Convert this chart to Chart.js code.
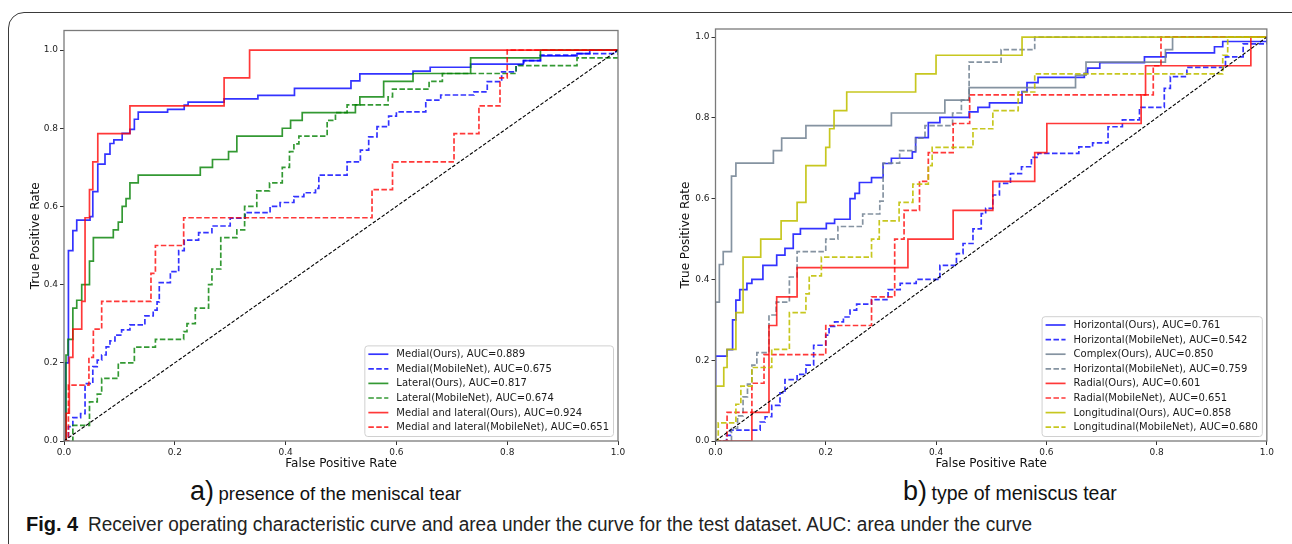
<!DOCTYPE html>
<html>
<head>
<meta charset="utf-8">
<script src="https://cdn.jsdelivr.net/npm/chart.js@4.4.0/dist/chart.umd.min.js"></script>
<style>
  body { margin: 0; background: #fff; width: 1292px; height: 544px; overflow: hidden; position: relative;
         font-family: "Liberation Sans", Arial, sans-serif; }
  #frame { position: absolute; left: 8px; top: 12px; width: 1300px; height: 580px;
           border: 1.3px solid #3a3a3a; border-radius: 16px; box-sizing: border-box; }
  .wrap { position: absolute; top: 20px; }
  #wrapA { left: 10px; }
  #wrapB { left: 660px; }
  .sub { position: absolute; top: 476px; white-space: nowrap; color: #111; line-height: 30px; }
  .sub .lt { font-size: 27px; }
  .sub .tx { font-size: 18.5px; }
  #caption { position: absolute; left: 26px; top: 511px; white-space: nowrap; line-height: 26px; font-size: 20px; color: #222; }
  #caption b { font-weight: bold; color: #111; display: inline-block; width: 62px; }
  #caption span { display: inline-block; transform-origin: left center; transform: scaleX(0.95); }
</style>
</head>
<body>
<div id="frame"></div>
<div class="wrap" id="wrapA"><canvas id="rocA" width="618" height="451"></canvas></div>
<div class="wrap" id="wrapB"><canvas id="rocB" width="616" height="451"></canvas></div>
<div class="sub" style="left:190px"><span class="lt">a)</span> <span class="tx">presence of the meniscal tear</span></div>
<div class="sub" style="left:903px"><span class="lt">b)</span> <span class="tx" style="font-size:19.5px">type of meniscus tear</span></div>
<div id="caption"><b>Fig. 4</b><span>Receiver operating characteristic curve and area under the curve for the test dataset. AUC: area under the curve</span></div>
<script>
// ---- shared ----
var tickValues = [0.0, 0.2, 0.4, 0.6, 0.8, 1.0];
var chanceLine = [0, 1];

// ---- a) presence of the meniscal tear ----
var leftLabels = ["Medial(Ours), AUC=0.889", "Medial(MobileNet), AUC=0.675", "Lateral(Ours), AUC=0.817",
                  "Lateral(MobileNet), AUC=0.674", "Medial and lateral(Ours), AUC=0.924",
                  "Medial and lateral(MobileNet), AUC=0.651"];

var medOursFpr = [0, 0.003, 0.008, 0.016, 0.023, 0.047, 0.052, 0.061, 0.074, 0.083, 0.090, 0.105, 0.119, 0.127, 0.134, 0.187,
                  0.217, 0.224, 0.289, 0.350, 0.416, 0.518, 0.534, 0.630, 0.661, 0.734, 0.829, 0.860, 0.926, 0.949, 1.0];
var medOursTpr = [0, 0.200, 0.487, 0.538, 0.565, 0.574, 0.638, 0.708, 0.734, 0.761, 0.770, 0.787, 0.797, 0.823, 0.841, 0.848,
                  0.859, 0.867, 0.875, 0.884, 0.902, 0.921, 0.939, 0.946, 0.956, 0.964, 0.973, 0.985, 0.991, 1.0, 1.0];

var medMobFpr = [0, 0.008, 0.016, 0.030, 0.038, 0.052, 0.060, 0.068, 0.076, 0.083, 0.092, 0.104, 0.119, 0.146, 0.161, 0.168,
                 0.172, 0.192, 0.207, 0.217, 0.243, 0.267, 0.300, 0.327, 0.372, 0.390, 0.415, 0.433, 0.454, 0.460, 0.511,
                 0.535, 0.550, 0.565, 0.586, 0.600, 0.653, 0.680, 0.740, 0.764, 0.790, 0.816, 0.830, 0.860, 0.927, 0.996, 1.0];
var medMobTpr = [0, 0.037, 0.060, 0.070, 0.147, 0.190, 0.207, 0.220, 0.241, 0.256, 0.271, 0.284, 0.297, 0.320, 0.335, 0.356,
                 0.405, 0.433, 0.487, 0.514, 0.533, 0.550, 0.570, 0.584, 0.600, 0.610, 0.625, 0.635, 0.646, 0.680, 0.714,
                 0.744, 0.778, 0.804, 0.831, 0.842, 0.872, 0.885, 0.893, 0.919, 0.944, 0.962, 0.973, 0.987, 0.991, 1.0, 1.0];

var latOursFpr = [0, 0.0036, 0.0072, 0.016, 0.023, 0.032, 0.046, 0.053, 0.089, 0.098, 0.105, 0.112, 0.119, 0.134, 0.246,
                  0.268, 0.297, 0.312, 0.394, 0.409, 0.430, 0.526, 0.534, 0.577, 0.630, 0.734, 0.860, 1.0];
var latOursTpr = [0, 0.22, 0.26, 0.34, 0.36, 0.40, 0.46, 0.52, 0.54, 0.56, 0.60, 0.62, 0.66, 0.68, 0.70,
                  0.72, 0.74, 0.78, 0.80, 0.82, 0.84, 0.86, 0.88, 0.92, 0.94, 0.98, 1.0, 1.0];

var latMobFpr = [0, 0.016, 0.046, 0.060, 0.068, 0.098, 0.127, 0.165, 0.216, 0.222, 0.237, 0.261, 0.267, 0.283, 0.312, 0.326,
                 0.348, 0.371, 0.394, 0.407, 0.415, 0.424, 0.475, 0.490, 0.511, 0.585, 0.593, 0.659, 0.683, 0.816, 0.926, 1.0];
var latMobTpr = [0, 0.04, 0.10, 0.12, 0.16, 0.20, 0.24, 0.26, 0.28, 0.30, 0.34, 0.40, 0.44, 0.52, 0.54, 0.60,
                 0.64, 0.66, 0.70, 0.74, 0.76, 0.78, 0.82, 0.84, 0.86, 0.88, 0.90, 0.92, 0.94, 0.96, 0.98, 1.0];

var bothOursFpr = [0, 0.004, 0.0096, 0.016, 0.032, 0.038, 0.046, 0.052, 0.061, 0.119, 0.289, 0.335, 1.0];
var bothOursTpr = [0, 0.071, 0.214, 0.286, 0.357, 0.571, 0.643, 0.714, 0.786, 0.857, 0.929, 1.0, 1.0];

var bothMobFpr = [0, 0.008, 0.045, 0.053, 0.068, 0.157, 0.165, 0.216, 0.556, 0.593, 0.704, 0.749, 0.787, 0.800, 1.0];
var bothMobTpr = [0, 0.143, 0.214, 0.286, 0.357, 0.429, 0.500, 0.571, 0.643, 0.714, 0.786, 0.857, 0.929, 1.0, 1.0];

// ---- b) type of meniscus tear ----
var rightLabels = ["Horizontal(Ours), AUC=0.761", "Horizontal(MobileNet), AUC=0.542", "Complex(Ours), AUC=0.850",
                   "Horizontal(MobileNet), AUC=0.759", "Radial(Ours), AUC=0.601", "Radial(MobileNet), AUC=0.651",
                   "Longitudinal(Ours), AUC=0.858", "Longitudinal(MobileNet), AUC=0.680"];

var horOursFpr = [0, 0, 0.021, 0.031, 0.037, 0.044, 0.057, 0.066, 0.086, 0.111, 0.126, 0.141, 0.154, 0.201, 0.216, 0.244,
                  0.253, 0.261, 0.283, 0.304, 0.319, 0.357, 0.363, 0.386, 0.407, 0.460, 0.476, 0.497, 0.556, 0.565, 0.585,
                  0.669, 0.675, 0.697, 0.778, 0.817, 0.905, 0.920, 1.0];
var horOursTpr = [0, 0.210, 0.226, 0.300, 0.349, 0.375, 0.390, 0.400, 0.435, 0.460, 0.477, 0.512, 0.526, 0.539, 0.549, 0.600,
                  0.613, 0.640, 0.652, 0.687, 0.700, 0.716, 0.751, 0.788, 0.801, 0.815, 0.826, 0.837, 0.865, 0.887, 0.900,
                  0.910, 0.923, 0.937, 0.951, 0.961, 0.976, 0.989, 1.0];

var horMobFpr = [0, 0.020, 0.027, 0.081, 0.090, 0.102, 0.117, 0.126, 0.148, 0.164, 0.178, 0.200, 0.206, 0.216, 0.232, 0.244,
                 0.256, 0.283, 0.313, 0.335, 0.364, 0.407, 0.437, 0.449, 0.467, 0.482, 0.490, 0.503, 0.515, 0.535, 0.555,
                 0.573, 0.585, 0.659, 0.684, 0.712, 0.738, 0.769, 0.814, 0.825, 0.855, 0.925, 0.957, 1.0];
var horMobTpr = [0, 0.014, 0.027, 0.047, 0.060, 0.088, 0.119, 0.152, 0.165, 0.188, 0.237, 0.262, 0.284, 0.295, 0.307, 0.324,
                 0.339, 0.350, 0.375, 0.390, 0.400, 0.435, 0.464, 0.489, 0.525, 0.563, 0.576, 0.609, 0.638, 0.662, 0.679,
                 0.702, 0.712, 0.728, 0.738, 0.778, 0.795, 0.826, 0.873, 0.902, 0.925, 0.951, 0.983, 1.0];

var cplxOursFpr = [0, 0, 0.007, 0.014, 0.029, 0.037, 0.105, 0.120, 0.164, 0.319, 0.416, 0.460, 0.653, 0.672, 0.816, 0.829, 1.0];
var cplxOursTpr = [0, 0.344, 0.437, 0.469, 0.656, 0.688, 0.719, 0.750, 0.781, 0.812, 0.844, 0.875, 0.906, 0.938, 0.969, 1.0, 1.0];

var cplxMobFpr = [0, 0.029, 0.040, 0.050, 0.058, 0.066, 0.075, 0.097, 0.110, 0.134, 0.148, 0.200, 0.222, 0.267, 0.298, 0.304,
                  0.334, 0.363, 0.380, 0.430, 0.446, 0.460, 0.518, 0.579, 1.0];
var cplxMobTpr = [0, 0.031, 0.062, 0.109, 0.141, 0.188, 0.219, 0.312, 0.344, 0.406, 0.469, 0.500, 0.531, 0.562, 0.594, 0.688,
                  0.719, 0.750, 0.781, 0.812, 0.844, 0.938, 0.969, 1.0, 1.0];

var radOursFpr = [0, 0.066, 0.097, 0.111, 0.148, 0.349, 0.431, 0.503, 0.579, 0.601, 0.772, 0.780, 0.971, 1.0];
var radOursTpr = [0, 0.071, 0.286, 0.357, 0.429, 0.500, 0.571, 0.643, 0.714, 0.786, 0.857, 0.929, 1.0, 1.0];

var radMobFpr = [0, 0.021, 0.066, 0.088, 0.200, 0.283, 0.325, 0.342, 0.370, 0.386, 0.431, 0.461, 0.794, 0.808, 1.0];
var radMobTpr = [0, 0.071, 0.143, 0.214, 0.286, 0.357, 0.500, 0.571, 0.643, 0.714, 0.786, 0.857, 0.929, 1.0, 1.0];

var lonOursFpr = [0, 0, 0.015, 0.021, 0.037, 0.050, 0.082, 0.119, 0.148, 0.164, 0.200, 0.207, 0.215, 0.238, 0.363, 0.400, 0.556, 1.0];
var lonOursTpr = [0, 0.136, 0.182, 0.227, 0.318, 0.455, 0.500, 0.545, 0.591, 0.682, 0.727, 0.773, 0.818, 0.864, 0.909, 0.955, 1.0, 1.0];

var lonMobFpr = [0, 0.005, 0.037, 0.046, 0.066, 0.102, 0.134, 0.164, 0.170, 0.192, 0.283, 0.297, 0.333, 0.358, 0.386, 0.393,
                 0.467, 0.503, 0.549, 0.579, 0.920, 0.929, 1.0];
var lonMobTpr = [0, 0.045, 0.091, 0.136, 0.182, 0.227, 0.318, 0.364, 0.409, 0.455, 0.500, 0.545, 0.591, 0.636, 0.682, 0.727,
                 0.773, 0.818, 0.864, 0.909, 0.955, 1.0, 1.0];

// colours (matplotlib b, g, r, slategray, y with alpha)
var cBlue = 'rgba(0,0,255,0.8)';
var cGreen = 'rgba(0,128,0,0.8)';
var cRed = 'rgba(255,0,0,0.78)';
var cGray = 'rgba(112,128,144,0.85)';
var cYellow = 'rgba(191,191,0,0.88)';
var dash = [5.5, 2.4];

function pts(xs, ys) {
    return xs.map(function (x, i) { return {x: x, y: ys[i]}; });
}

function curve(label, xs, ys, color, dashed, n) {
    return {
        label: label,
        data: pts(xs, ys),
        borderColor: color,
        borderWidth: 1.7,
        borderDash: dashed ? dash : [],
        stepped: 'before',
        pointRadius: 0,
        fill: false,
        inLegend: true,
        order: 20 - n
    };
}

function diagonal() {
    return {
        label: 'chance',
        data: pts(chanceLine, chanceLine),
        borderColor: '#000',
        borderWidth: 1.1,
        borderDash: [3.6, 1.8],
        pointRadius: 0,
        fill: false,
        inLegend: false,
        order: 0
    };
}

// matplotlib style legend drawn inside the axes
var rocLegend = {
    id: 'rocLegend',
    afterDraw: function (chart, args, opts) {
        var ctx = chart.ctx;
        var items = chart.data.datasets.filter(function (d) { return d.inLegend; });
        ctx.save();
        ctx.font = '10px "DejaVu Sans"';
        var maxW = 0;
        items.forEach(function (d) { maxW = Math.max(maxW, ctx.measureText(d.label).width); });
        var rowH = 14.6;
        var boxW = 4 + 20 + 8 + maxW + 4;
        var boxH = 3 + rowH * items.length;
        var x0 = chart.chartArea.right - 5 - boxW;
        var y0 = chart.chartArea.bottom - 5 - boxH;
        ctx.fillStyle = 'rgba(255,255,255,0.8)';
        ctx.strokeStyle = '#d0d0d0';
        ctx.lineWidth = 1;
        ctx.beginPath();
        ctx.roundRect(x0 + 0.5, y0 + 0.5, boxW, boxH, 3);
        ctx.fill();
        ctx.stroke();
        items.forEach(function (d, i) {
            var cy = y0 + 1.5 + rowH * (i + 0.5);
            ctx.strokeStyle = d.borderColor;
            ctx.lineWidth = 1.7;
            ctx.setLineDash(d.borderDash);
            ctx.beginPath();
            ctx.moveTo(x0 + 4, cy);
            ctx.lineTo(x0 + 24, cy);
            ctx.stroke();
            ctx.setLineDash([]);
            ctx.fillStyle = '#1a1a1a';
            ctx.textBaseline = 'middle';
            ctx.textAlign = 'left';
            ctx.fillText(d.label, x0 + 32, cy + 0.5);
        });
        ctx.restore();
    }
};

// full box around the axes
var axesFrame = {
    id: 'axesFrame',
    afterDatasetsDraw: function (chart) {
        var a = chart.chartArea, ctx = chart.ctx;
        ctx.save();
        ctx.strokeStyle = '#7a7a7a';
        ctx.lineWidth = 1.3;
        ctx.strokeRect(a.left, a.top, a.right - a.left, a.bottom - a.top);
        ctx.restore();
    }
};

function makeOptions(yMax, yWidth, padTop, padRight) {
    var tickFont = {family: '"DejaVu Sans"', size: 9};
    var titleFont = {family: '"DejaVu Sans"', size: 12};
    return {
        responsive: false,
        animation: false,
        layout: {padding: {top: padTop, right: padRight, left: 0, bottom: 0}},
        plugins: {legend: {display: false}, tooltip: {enabled: false}},
        scales: {
            x: {
                type: 'linear', min: 0, max: 1,
                afterBuildTicks: function (s) { s.ticks = tickValues.map(function (v) { return {value: v}; }); },
                afterFit: function (s) { s.height = 30; },
                grid: {drawOnChartArea: false, drawTicks: true, tickLength: 4, color: '#333', lineWidth: 1},
                border: {display: false},
                ticks: {font: tickFont, color: '#222', padding: 2, maxRotation: 0,
                        callback: function (v) { return v.toFixed(1); }},
                title: {display: true, text: 'False Positive Rate', font: titleFont, color: '#111', padding: {top: 0, bottom: 0}}
            },
            y: {
                type: 'linear', min: 0, max: yMax,
                afterBuildTicks: function (s) { s.ticks = tickValues.map(function (v) { return {value: v}; }); },
                afterFit: function (s) { s.width = yWidth; },
                grid: {drawOnChartArea: false, drawTicks: true, tickLength: 4, color: '#333', lineWidth: 1},
                border: {display: false},
                ticks: {font: tickFont, color: '#222', padding: 2,
                        callback: function (v) { return v.toFixed(1); }},
                title: {display: true, text: 'True Positive Rate', font: titleFont, color: '#111', padding: {top: 19, bottom: 0}}
            }
        }
    };
}

new Chart(document.getElementById('rocA'), {
    type: 'line',
    data: {
        datasets: [
            curve(leftLabels[0], medOursFpr, medOursTpr, cBlue, false, 0),
            curve(leftLabels[1], medMobFpr, medMobTpr, cBlue, true, 1),
            curve(leftLabels[2], latOursFpr, latOursTpr, cGreen, false, 2),
            curve(leftLabels[3], latMobFpr, latMobTpr, cGreen, true, 3),
            curve(leftLabels[4], bothOursFpr, bothOursTpr, cRed, false, 4),
            curve(leftLabels[5], bothMobFpr, bothMobTpr, cRed, true, 5),
            diagonal()
        ]
    },
    options: makeOptions(1.05, 54, 10.5, 10),
    plugins: [axesFrame, rocLegend]
});

new Chart(document.getElementById('rocB'), {
    type: 'line',
    data: {
        datasets: [
            curve(rightLabels[0], horOursFpr, horOursTpr, cBlue, false, 0),
            curve(rightLabels[1], horMobFpr, horMobTpr, cBlue, true, 1),
            curve(rightLabels[2], cplxOursFpr, cplxOursTpr, cGray, false, 2),
            curve(rightLabels[3], cplxMobFpr, cplxMobTpr, cGray, true, 3),
            curve(rightLabels[4], radOursFpr, radOursTpr, cRed, false, 4),
            curve(rightLabels[5], radMobFpr, radMobTpr, cRed, true, 5),
            curve(rightLabels[6], lonOursFpr, lonOursTpr, cYellow, false, 6),
            curve(rightLabels[7], lonMobFpr, lonMobTpr, cYellow, true, 7),
            diagonal()
        ]
    },
    options: makeOptions(1.02, 55.5, 9, 7.7),
    plugins: [axesFrame, rocLegend]
});
</script>
</body>
</html>
